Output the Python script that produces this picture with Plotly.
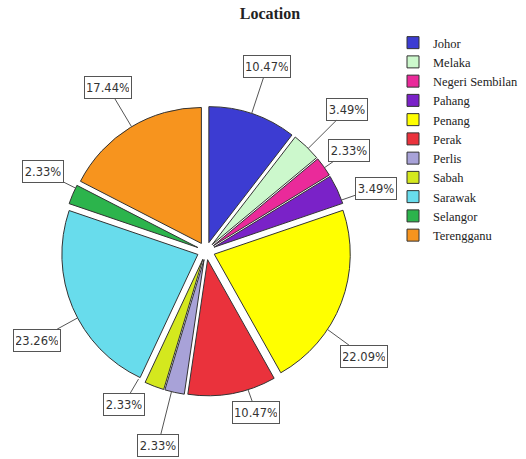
import math
import plotly.graph_objects as go

categories = ["Johor", "Melaka", "Negeri Sembilan", "Pahang", "Penang", "Perak",
              "Perlis", "Sabah", "Sarawak", "Selangor", "Terengganu"]
counts = [9, 3, 2, 3, 19, 9, 2, 2, 20, 2, 15]
colors = ["#3C3CD2", "#CCF8CC", "#EA2A9A", "#7A22C8", "#FFFF00", "#EA323C",
          "#A8A2D8", "#D4E81E", "#68DCEC", "#2CB44C", "#F7941E"]
# label placement (style): radial distance in px and angular shift in degrees
label_dist = [194, 200, 175, 181, 190, 169, 200, 174, 191, 181, 191]
label_shift = [-0.5, 1, 0.5, 4.8, 12.7, -6.8, 1.3, 7.3, -4.8, 2.9, 0.5]

W, H = 526, 459
cx, cy = 206, 251
R = 136
pull = 0.065
half = R * (1 + pull)
d = R * pull

fig = go.Figure(go.Pie(
    labels=categories, values=counts, sort=False, direction="clockwise",
    rotation=0, pull=pull, textinfo="none",
    marker=dict(colors=colors, line=dict(color="#333333", width=1)),
    domain=dict(x=[(cx - half) / W, (cx + half) / W],
                y=[1 - (cy + half) / H, 1 - (cy - half) / H]),
))

total = sum(counts)
cum = 0
annotations = []
for i, c in enumerate(counts):
    mid = (cum + c / 2) / total * 2 * math.pi
    cum += c
    th = mid + math.radians(label_shift[i])
    ux, uy = math.sin(th), -math.cos(th)
    mx, my = math.sin(mid), -math.cos(mid)
    ex, ey = cx + R * ux + d * mx, cy + R * uy + d * my
    L = label_dist[i]
    lx, ly = cx + L * ux, cy + L * uy
    txt = f"{100 * c / total:.2f}%"
    annotations.append(dict(
        x=ex / W, y=1 - ey / H, xref="paper", yref="paper",
        ax=lx - ex, ay=ly - ey,
        text=txt, showarrow=True, arrowhead=0,
        arrowwidth=1, arrowcolor="#555555",
        width=42 if len(txt) > 5 else 36, height=17,
        font=dict(family="DejaVu Sans", size=11.5, color="#333333"),
        bgcolor="white", bordercolor="#555555", borderwidth=1, borderpad=2,
    ))

fig.update_layout(
    width=W, height=H, margin=dict(l=0, r=0, t=0, b=0),
    paper_bgcolor="white", plot_bgcolor="white",
    title=dict(text="<b>Location</b>", x=270 / W, xanchor="center",
               y=1 - 8 / H, yanchor="top",
               font=dict(family="Liberation Serif", size=16, color="#222222")),
    legend=dict(x=393 / W, y=1 - 28 / H, xanchor="left", yanchor="top",
                font=dict(family="Liberation Serif", size=12.5, color="#222222"),
                traceorder="normal"),
    annotations=annotations,
)

fig.write_html("out.html")
